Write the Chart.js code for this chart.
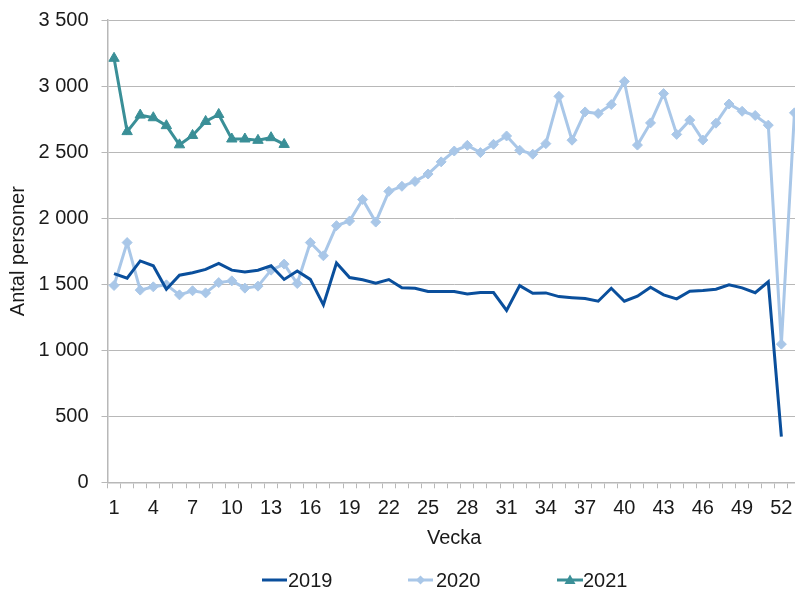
<!DOCTYPE html>
<html>
<head>
<meta charset="utf-8">
<script src="https://cdn.jsdelivr.net/npm/chart.js@4"></script>
<style>
  html, body { margin: 0; padding: 0; background: #fff; overflow: hidden; }
  #wrap { position: relative; width: 808px; height: 589px; }
  #chart { position: absolute; left: 0; top: 0; }
  .leg { position: absolute; top: 568px; height: 24px; font: 20px "Liberation Sans", Arial, sans-serif; color: #1a1a1a; line-height: 24px; }
  .leg svg { position: absolute; left: 0; top: 0; }
  .leg span { position: absolute; top: 0; white-space: nowrap; }
</style>
</head>
<body>
<div id="wrap">
  <canvas id="chart" width="808" height="589"></canvas>
  <div class="leg" style="left:262px"><svg width="26" height="24"><line x1="0" y1="12" x2="25" y2="12" stroke="#0a4f9c" stroke-width="3"/></svg><span style="left:26px">2019</span></div>
  <div class="leg" style="left:408px"><svg width="26" height="24"><line x1="0" y1="12" x2="25" y2="12" stroke="#a9c7e8" stroke-width="3"/><polygon points="12.5,7.5 17,12 12.5,16.5 8,12" fill="#a9c7e8"/></svg><span style="left:28px">2020</span></div>
  <div class="leg" style="left:557px"><svg width="27" height="24"><line x1="0" y1="12" x2="26" y2="12" stroke="#3a8f97" stroke-width="3"/><polygon points="13,6.5 18.5,16 7.5,16" fill="#3a8f97"/></svg><span style="left:26px">2021</span></div>
</div>
<script>
const weeks = ['1','2','3','4','5','6','7','8','9','10','11','12','13','14','15','16','17','18','19','20',
  '21','22','23','24','25','26','27','28','29','30','31','32','33','34','35','36','37','38','39','40',
  '41','42','43','44','45','46','47','48','49','50','51','52','53'];

const y2019 = [1580, 1545, 1676, 1639, 1462, 1568, 1586, 1612, 1658, 1606,
  1593, 1606, 1639, 1536, 1600, 1536, 1343, 1660, 1550, 1533,
  1508, 1535, 1472, 1469, 1444, 1444, 1444, 1426, 1436, 1436,
  1301, 1489, 1431, 1434, 1406, 1398, 1391, 1371, 1469, 1371,
  1409, 1477, 1419, 1389, 1446, 1452, 1462, 1495, 1472, 1435,
  1518, 345, null];

const y2020 = [1490, 1815, 1455, 1480, 1495, 1419, 1450, 1434, 1512, 1525,
  1470, 1485, 1606, 1652, 1505, 1815, 1715, 1943, 1978, 2141,
  1970, 2203, 2241, 2278, 2334, 2426, 2508, 2551, 2496, 2559,
  2622, 2514, 2484, 2564, 2922, 2590, 2804, 2792, 2860, 3035,
  2553, 2721, 2943, 2634, 2742, 2591, 2719, 2864, 2809, 2777,
  2704, 1046, 2797];

const y2021 = [3210, 2655, 2780, 2760, 2700, 2555, 2626, 2732, 2785, 2599, 2599, 2589, 2609, 2558];

const yTicks = [0, 500, 1000, 1500, 2000, 2500, 3000, 3500];

const gridGray = '#b8b8b8';
const textCol = '#1a1a1a';
const font = { family: '"Liberation Sans", Arial, sans-serif', size: 20 };

function fmt(v) { return String(v).replace(/\B(?=(\d{3})+(?!\d))/g, ' '); }

new Chart(document.getElementById('chart'), {
  type: 'line',
  data: {
    labels: weeks,
    datasets: [
      { label: '2019', data: y2019, borderColor: '#0a4f9c', borderWidth: 3, pointRadius: 0, tension: 0, order: 1 },
      { label: '2020', data: y2020, borderColor: '#a9c7e8', backgroundColor: '#a9c7e8', borderWidth: 3,
        pointStyle: 'rectRot', pointRadius: 5, pointBorderWidth: 1, pointBackgroundColor: '#a9c7e8', tension: 0, order: 2 },
      { label: '2021', data: y2021, borderColor: '#3a8f97', backgroundColor: '#3a8f97', borderWidth: 3,
        pointStyle: 'triangle', pointRadius: 6, pointBorderWidth: 1, pointBackgroundColor: '#3a8f97', tension: 0, order: 0 }
    ]
  },
  options: {
    responsive: false,
    animation: false,
    layout: { padding: { left: 0, top: 20, right: 0, bottom: 30 } },
    plugins: { legend: { display: false }, tooltip: { enabled: false } },
    scales: {
      x: {
        offset: true,
        grid: { display: true, drawOnChartArea: false, drawTicks: true, tickLength: 6, offset: true, color: gridGray, lineWidth: 1 },
        border: { display: true, color: gridGray, width: 1.5 },
        ticks: { autoSkip: false, maxRotation: 0, padding: 8, color: textCol, font: font,
          callback: function(v, i) { return i % 3 === 0 ? weeks[i] : ''; } },
        title: { display: true, text: 'Vecka', color: textCol, font: font, padding: { top: 0, bottom: 9 } },
        afterFit: function(s) { s.height = 76.7; s.paddingLeft = 0; s.paddingRight = 0; }
      },
      y: {
        min: 0, max: 3500,
        afterBuildTicks: function(s) { s.ticks = yTicks.map(v => ({ value: v })); },
        grid: { color: gridGray, lineWidth: 1, tickLength: 6 },
        border: { display: true, color: gridGray, width: 1.5 },
        ticks: { padding: 13, color: textCol, font: font, callback: v => fmt(v) },
        title: { display: true, text: 'Antal personer', color: textCol, font: font, padding: { top: 6, bottom: 0 } },
        afterFit: function(s) { s.width = 107.5; s.paddingTop = 0; s.paddingBottom = 0; }
      }
    }
  }
});
</script>
</body>
</html>
